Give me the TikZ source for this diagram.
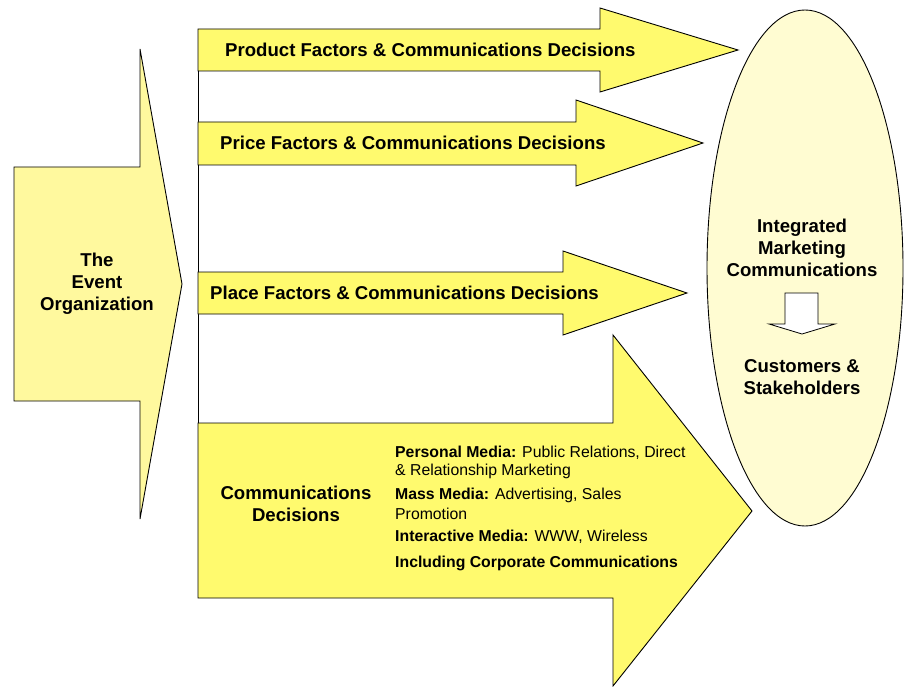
\documentclass[tikz,border=0pt]{standalone}
\usepackage{fontspec}
\setmainfont{Liberation Sans}
\usetikzlibrary{shapes.geometric}
\definecolor{arrowyellow}{HTML}{FFFA6E}
\definecolor{paleyellow}{HTML}{FFF99E}
\definecolor{ellipseyellow}{HTML}{FFFCD2}
\begin{document}
\begin{tikzpicture}[x=1pt,y=-1pt,
  arr/.style={draw=black, line width=0.9pt, fill=arrowyellow, line join=miter},
  big/.style={font=\bfseries\fontsize{18.6}{22}\selectfont, align=center, inner sep=0pt},
  small/.style={font=\fontsize{15.8}{18}\selectfont, inner sep=0pt, anchor=base west}]
\useasboundingbox (0,0) rectangle (904,687);
% left arrow
\draw[arr, fill=paleyellow] (14,167) -- (140,167) -- (140,49) -- (182,284) -- (140,519) -- (140,401) -- (14,401) -- cycle;
\node[big] (org) at (97,284) {The\\Event\\Organization};
% ellipse
\node[draw=black, line width=0.9pt, fill=ellipseyellow, ellipse, minimum width=196pt, minimum height=516pt, inner sep=0pt] (imc) at (805,268) {};
% vertical line
\draw[line width=0.9pt] (198,29) -- (198,598);
% product
\draw[arr] (198,29) -- (600,29) -- (600,8) -- (738,50) -- (600,92) -- (600,71) -- (198,71) -- cycle;
\node[big, anchor=west] (prod) at (225,50) {Product Factors \& Communications Decisions};
% price
\draw[arr] (198,122) -- (576,122) -- (576,100) -- (703,143) -- (576,186) -- (576,165) -- (198,165) -- cycle;
\node[big, anchor=west] (price) at (220,143) {Price Factors \& Communications Decisions};
% place
\draw[arr] (198,272) -- (563,272) -- (563,251) -- (687,293) -- (563,335) -- (563,314) -- (198,314) -- cycle;
\node[big, anchor=west] (place) at (210,293) {Place Factors \& Communications Decisions};
% communications
\draw[arr] (198,423) -- (613,423) -- (613,335) -- (752,511) -- (613,686) -- (613,598) -- (198,598) -- cycle;
\node[big] (comm) at (296,504) {Communications\\Decisions};
\node[small] (l1) at (395,457) {\textbf{Personal Media:} Public Relations, Direct};
\node[small] (l2) at (395,475) {\& Relationship Marketing};
\node[small] (l3) at (395,499) {\textbf{Mass Media:} Advertising, Sales};
\node[small] (l4) at (395,519) {Promotion};
\node[small] (l5) at (395,541) {\textbf{Interactive Media:} WWW, Wireless};
\node[small] (l6) at (395,567) {\textbf{Including Corporate Communications}};
% ellipse texts
\node[big] (imct) at (802,248) {Integrated\\Marketing\\Communications};
\draw[line width=0.8pt, fill=white] (785,293) -- (818,293) -- (818,324) -- (835,324) -- (802,334) -- (769,324) -- (785,324) -- cycle;
\node[big] (cust) at (802,377) {Customers \&\\Stakeholders};
\end{tikzpicture}
\end{document}
